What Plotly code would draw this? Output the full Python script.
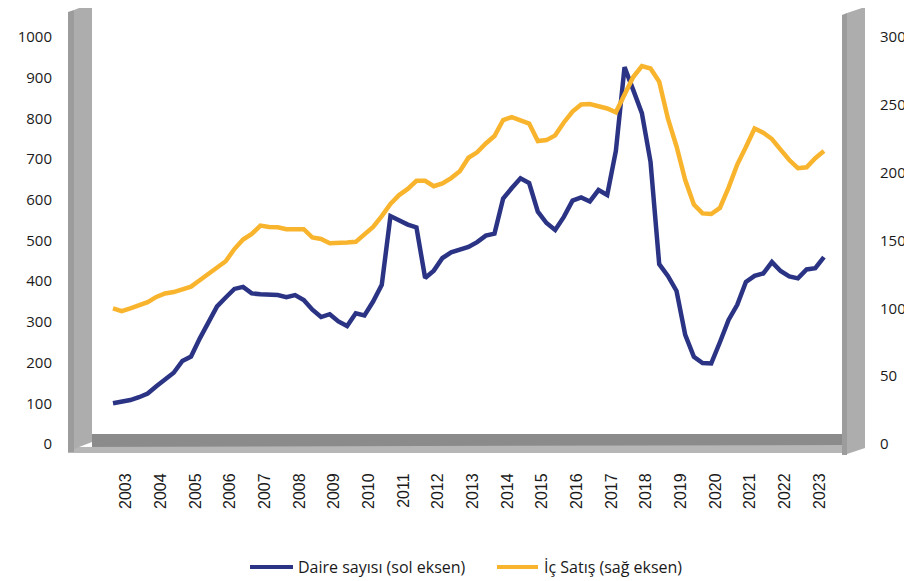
import plotly.graph_objects as go

# quarterly series, 2003Q1 .. 2023Q3
years = list(range(2003, 2024))
quarters = [f"{y}Q{q}" for y in years for q in range(1, 5)][:83]

daire_sayisi = [
    100, 104, 108, 115, 124, 142, 159, 175, 204, 215,
    259, 296, 338, 360, 381, 386, 370, 368, 366, 366,
    361, 366, 354, 330, 312, 319, 301, 290, 321, 316,
    350, 391, 560, 548, 539, 532, 408, 426, 457, 471,
    477, 484, 496, 512, 517, 603, 629, 653, 641, 571,
    543, 526, 558, 598, 606, 596, 624, 612, 720, 926,
    870, 813, 693, 442, 413, 376, 268, 214, 199, 198,
    250, 305, 342, 398, 413, 419, 447, 425, 412, 407,
    429, 432, 459,
]

ic_satis = [
    100, 98, 100, 102.6, 104.6, 108.4, 111, 112, 114, 116,
    120.7, 125.6, 130.8, 134.7, 143.7, 150.7, 154.8, 161, 160, 159.7,
    158.3, 158.3, 158.3, 152.2, 151.1, 148, 148, 148.5, 149, 154,
    160, 168, 177, 183.5, 188, 194, 194, 190, 192, 196,
    201, 211, 215, 221.5, 227, 238.8, 241, 238.6, 236.2, 223.3,
    224, 227.5, 237, 245, 250.2, 250.6, 249, 247.3, 244.5, 258,
    270.5, 278.6, 276.8, 267, 240, 219.3, 194.6, 176.5, 170, 169.5,
    174, 189, 206, 219, 232.5, 229.5, 224.8, 217, 209.3, 203.3,
    204, 210.7, 216,
]

series_names = ["Daire sayısı (sol eksen)", "İç Satış (sağ eksen)"]

left_ticks = list(range(0, 1001, 100))
right_ticks = list(range(0, 301, 50))

colors = {
    'daire': '#2B3484',
    'satis': '#F9B42D',
    'wall': '#ADADAD',
    'wall_side': '#9C9C9C',
    'floor': '#8B8B8B',
    'floor_edge': '#B6B6B6',
    'text': '#1a1a1a',
}

# the page body has an 8px margin, so the figure starts at (8, 8) on screen
OFF = 8
W, H = 912 - OFF, 581 - OFF
# plot area in screen pixels
L, R, T, B = 62, 872, 10, 456


def fx(p):
    return (p - L) / (R - L)


def fy(p):
    return (B - p) / (B - T)


def poly(points, color):
    path = "M " + " L ".join(f"{fx(x):.5f},{fy(y):.5f}" for x, y in points) + " Z"
    return dict(type="path", xref="paper", yref="paper", path=path,
                fillcolor=color, line=dict(width=0), layer="below")


x_idx = list(range(len(quarters)))
# year label in the middle of its four quarters
tick_pos = [4 * k + 1.5 for k in range(len(years))]

# quarter i sits at 113 + 8.67 i px, value 0 at 444 px, 1000 at 37 px
step = 8.67
x_range = [(L - 113) / step, (R - 113) / step]
ppu = 407 / 1000
y_range = [-(B - 444) / ppu, (444 - T) / ppu]
y2_range = [v * 0.3 for v in y_range]

fig = go.Figure()
fig.add_trace(go.Scatter(
    x=x_idx, y=daire_sayisi, name=series_names[0],
    mode="lines", line=dict(color=colors['daire'], width=4.5)
))
fig.add_trace(go.Scatter(
    x=x_idx, y=ic_satis, name=series_names[1], yaxis="y2",
    mode="lines", line=dict(color=colors['satis'], width=4.5)
))

shapes = [
    # floor
    poly([(92, 434), (842, 434), (842, 447), (92, 447)], colors['floor']),
    poly([(68, 447), (842, 445), (842, 453), (68, 453)], colors['floor_edge']),
    # left wall
    poly([(68, 12), (74, 10), (74, 452), (68, 452)], colors['wall_side']),
    poly([(74, 10), (92, 3), (92, 442), (74, 449)], colors['wall']),
    # right wall
    poly([(842, 15), (847, 13), (847, 455), (842, 455)], colors['wall_side']),
    poly([(847, 13), (865, 7), (865, 448), (847, 454)], colors['wall']),
]

# legend drawn by hand: long line samples like the original
annotations = []
legend_items = [(250, 293, 296, colors['daire']), (497, 538, 542, colors['satis'])]
for name, (x0, x1, xt, c) in zip(series_names, legend_items):
    shapes.append(dict(type="line", xref="paper", yref="paper",
                       x0=fx(x0), x1=fx(x1), y0=fy(567), y1=fy(567),
                       line=dict(color=c, width=4)))
    annotations.append(dict(xref="paper", yref="paper", x=fx(xt), y=fy(567),
                            xanchor="left", yanchor="middle", showarrow=False,
                            text=name, font=dict(size=16, color=colors['text'])))

fig.update_layout(
    width=W, height=H,
    margin=dict(l=L - OFF, r=W + OFF - R, t=T - OFF, b=H + OFF - B),
    paper_bgcolor="white", plot_bgcolor="white",
    font=dict(family="Open Sans, sans-serif", size=15, color=colors['text']),
    showlegend=False,
    xaxis=dict(range=x_range, showgrid=False, zeroline=False, showline=False,
               tickmode="array", tickvals=tick_pos, ticktext=[str(y) for y in years],
               tickangle=-90, ticks="outside", ticklen=10, tickcolor="rgba(0,0,0,0)",
               tickfont=dict(family="Arial, Liberation Sans, sans-serif", size=16)),
    yaxis=dict(range=y_range, showgrid=False, zeroline=False, showline=False,
               tickmode="array", tickvals=left_ticks,
               ticks="outside", ticklen=6, tickcolor="rgba(0,0,0,0)"),
    yaxis2=dict(range=y2_range, overlaying="y", side="right",
                showgrid=False, zeroline=False, showline=False,
                tickmode="array", tickvals=right_ticks,
                ticks="outside", ticklen=4, tickcolor="rgba(0,0,0,0)"),
    shapes=shapes,
    annotations=annotations,
)

fig.write_html("out.html")
